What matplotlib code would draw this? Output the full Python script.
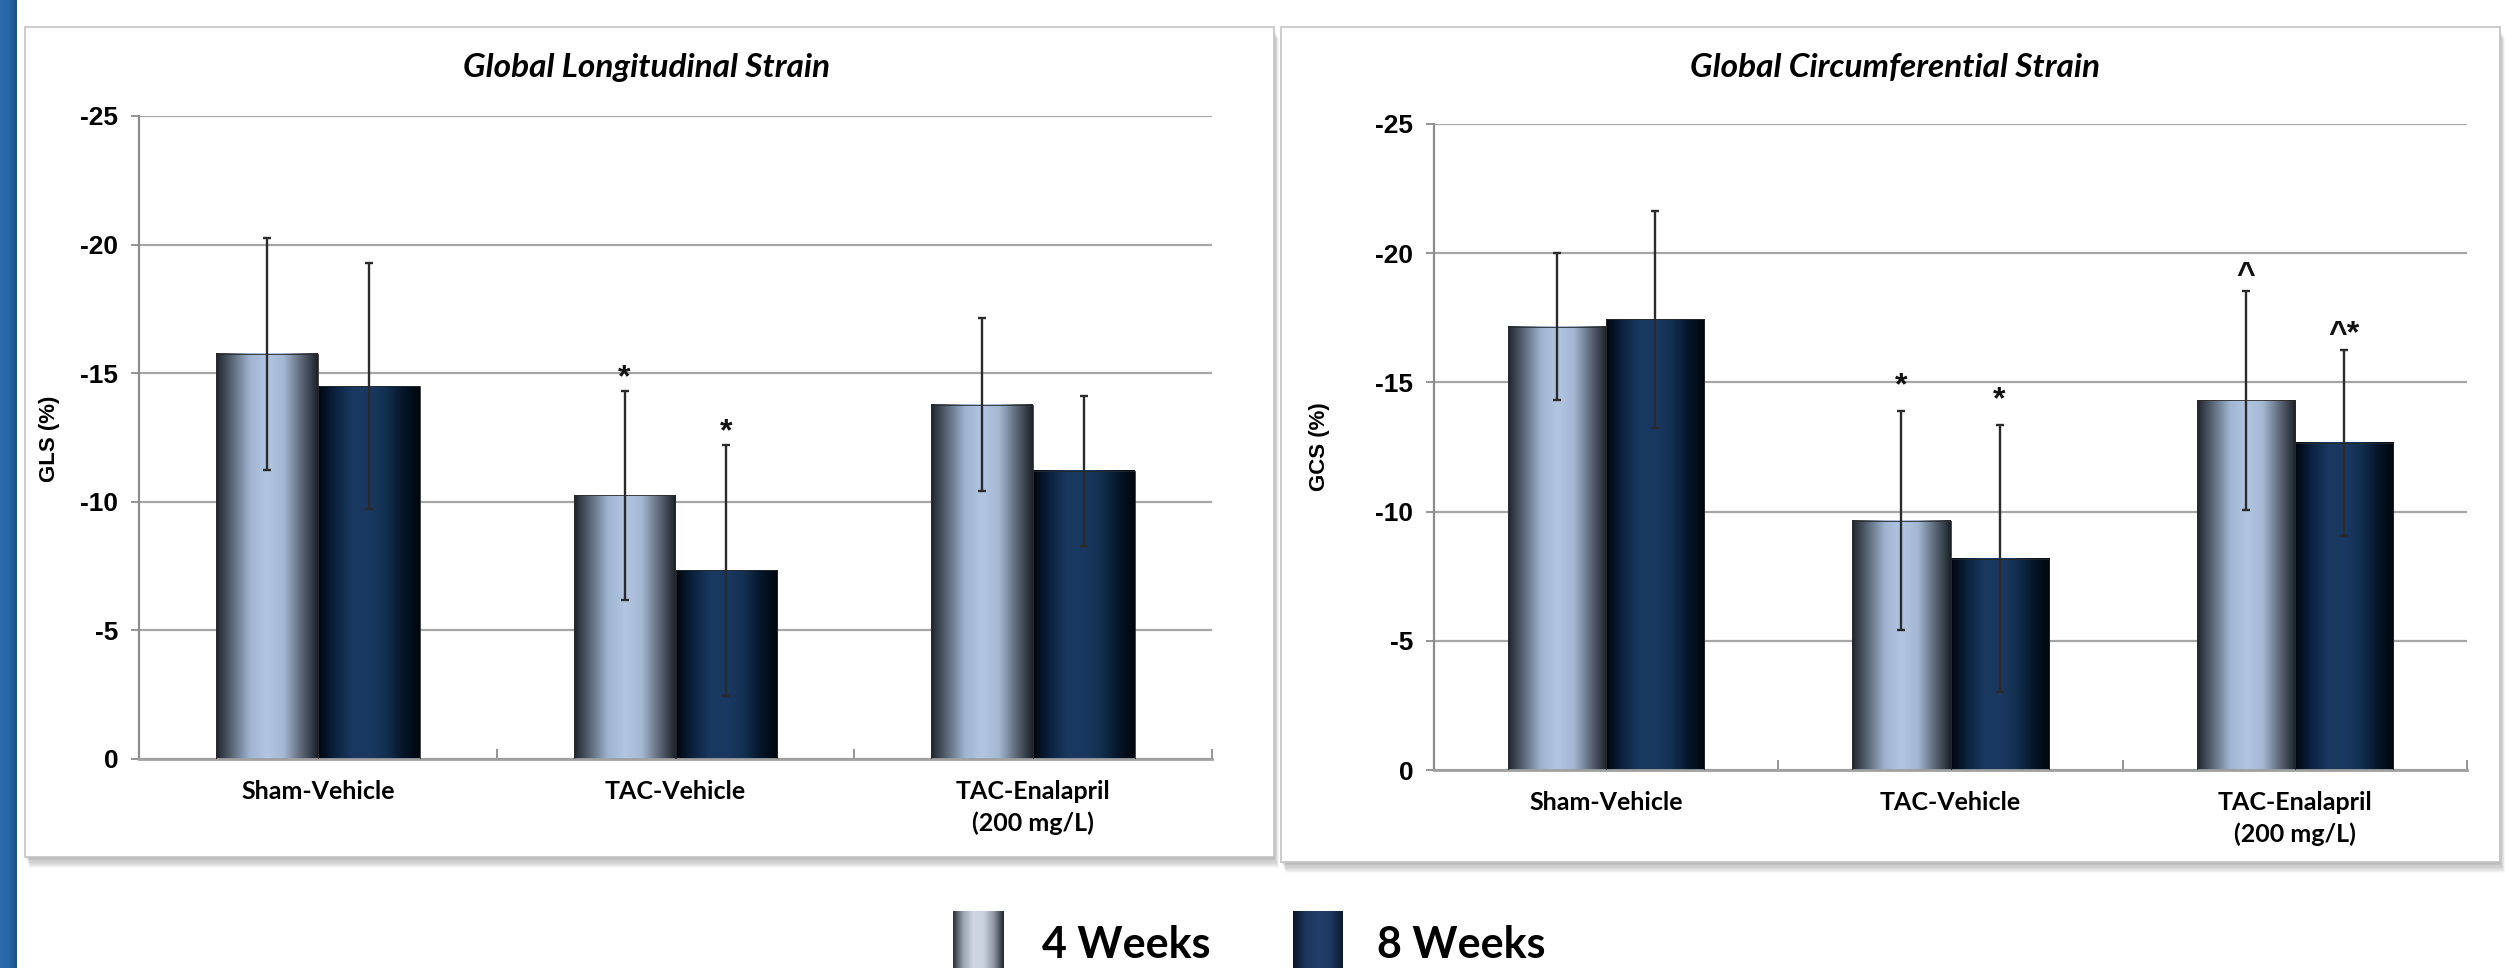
import matplotlib
matplotlib.use('Agg')
import matplotlib.pyplot as plt
import numpy as np
from matplotlib.colors import LinearSegmentedColormap
from matplotlib.patches import Rectangle

plt.rcParams['axes.unicode_minus'] = False

W, H = 2505, 968

# data (strain is negative)
categories = ['Sham-Vehicle', 'TAC-Vehicle', 'TAC-Enalapril\n(200 mg/L)']
series = ['4 Weeks', '8 Weeks']

gls_4wk = [-15.75, -10.25, -13.77]
gls_4wk_sd = [4.5, 4.07, 3.36]
gls_8wk = [-14.5, -7.33, -11.2]
gls_8wk_sd = [4.78, 4.88, 2.9]
gls_4wk_sig = ['', '*', '']
gls_8wk_sig = ['', '*', '']

gcs_4wk = [-17.16, -9.65, -14.3]
gcs_4wk_sd = [2.86, 4.24, 4.24]
gcs_8wk = [-17.44, -8.17, -12.66]
gcs_8wk_sd = [4.2, 5.17, 3.6]
gcs_4wk_sig = ['', '*', '^']
gcs_8wk_sig = ['', '*', '^*']

y_ticks = [0, -5, -10, -15, -20, -25]

# gradient colormaps for the bars
cmap_4 = LinearSegmentedColormap.from_list('w4', ['#1f242b', '#5d6b7c', '#9fb4d0', '#b2c6e2', '#a4b8d3', '#5f6a7a', '#1c2128'])
cmap_8 = LinearSegmentedColormap.from_list('w8', ['#00050c', '#0c2240', '#19385f', '#1a3962', '#12304f', '#06162a', '#00060d'])
leg_4 = LinearSegmentedColormap.from_list('l4', ['#2a2f36', '#9aa3b0', '#d0d7e2', '#cad2de', '#8f98a5', '#23272d'])
leg_8 = LinearSegmentedColormap.from_list('l8', ['#0a1526', '#1c355c', '#21406c', '#1d3862', '#0c1a30'])
strip_cmap = LinearSegmentedColormap.from_list('strip', ['#2c6dac', '#2867a6', '#1c5187'])
grad = np.linspace(0, 1, 256).reshape(1, -1)

fig = plt.figure(figsize=(W / 100, H / 100), dpi=100)
fig.patch.set_facecolor('white')
bg = fig.add_axes([0, 0, 1, 1], zorder=0)
bg.axis('off')

# blue strip on the left edge
bg.imshow(grad, extent=(0, 17, H, 0), cmap=strip_cmap, aspect='auto')

# panel boxes with a soft shadow
for x0, y0, x1, y1 in [(25, 27, 1274, 857), (1281, 27, 2500, 862)]:
    for k in range(1, 11):
        bg.add_patch(Rectangle((x0 + k * 0.5, y0 + k * 1.1), x1 - x0, y1 - y0, color='black', alpha=0.03, lw=0))
    bg.add_patch(Rectangle((x0, y0), x1 - x0, y1 - y0, facecolor='white', edgecolor='#c4c4c4', lw=1.2))

bg.set_xlim(0, W)
bg.set_ylim(H, 0)


def draw_panel(ax, m4, s4, m8, s8, sig4, sig8, sig_pad):
    x = np.arange(len(categories))
    bw = 0.285
    groups = [(x - bw / 2, m4, s4, cmap_4, sig4), (x + bw / 2, m8, s8, cmap_8, sig8)]
    for xs, means, sds, cmap, sigs in groups:
        for xi, m in zip(xs, means):
            ax.imshow(grad, extent=(xi - bw / 2, xi + bw / 2, 0, m), cmap=cmap, aspect='auto', zorder=2)
            ax.add_patch(Rectangle((xi - bw / 2, 0), bw, m, fill=False, ec='#2a2a2a', lw=0.6, zorder=3))
        ax.errorbar(xs, means, yerr=sds, fmt='none', ecolor='#2b2b2b', elinewidth=1.7,
                    capsize=3.2, capthick=1.7, zorder=4)
        for xi, m, sd, sg in zip(xs, means, sds, sigs):
            if sg:
                pad = sig_pad if '^' not in sg else sig_pad * 0.6
                ax.annotate(sg, (xi, m - sd), xytext=(0, pad), textcoords='offset points',
                            ha='center', va='center', fontsize=23, fontweight='bold',
                            family='Liberation Sans', color='#111111')
    ax.set_xlim(-0.5, 2.5)
    ax.set_ylim(0, -25)
    ax.set_yticks(y_ticks)
    ax.set_yticklabels([str(v) for v in y_ticks], fontsize=19, fontweight='bold', family='Liberation Sans')
    ax.yaxis.grid(True, color='#a6a6a6', lw=1.6)
    ax.set_axisbelow(True)
    ax.set_xticks([0.5, 1.5, 2.5])
    ax.set_xticklabels([])
    ax.set_xticks(x, minor=True)
    ax.set_xticklabels(categories, minor=True)
    for lab in ax.get_xticklabels(minor=True):
        lab.set_fontfamily('Lato')
        lab.set_fontweight('bold')
        lab.set_fontsize(18)
        lab.set_linespacing(1.45)
    ax.tick_params(axis='x', which='major', direction='in', length=7, width=1.3, color='#8c8c8c')
    ax.tick_params(axis='x', which='minor', length=0, pad=15)
    ax.tick_params(axis='y', direction='out', length=6, width=1.3, color='#8c8c8c', pad=9)
    for s in ['top', 'right']:
        ax.spines[s].set_visible(False)
    ax.spines['left'].set_color('#8c8c8c')
    ax.spines['left'].set_linewidth(1.6)
    ax.spines['bottom'].set_color('#a0a0a0')
    ax.spines['bottom'].set_linewidth(2)
    ax.set_facecolor('none')


ax1 = fig.add_axes([139 / W, 1 - 759 / H, 1073 / W, 643 / H], zorder=2)
draw_panel(ax1, gls_4wk, gls_4wk_sd, gls_8wk, gls_8wk_sd, gls_4wk_sig, gls_8wk_sig, 9)

ax2 = fig.add_axes([1434 / W, 1 - 770 / H, 1033 / W, 646 / H], zorder=2)
draw_panel(ax2, gcs_4wk, gcs_4wk_sd, gcs_8wk, gcs_8wk_sd, gcs_4wk_sig, gcs_8wk_sig, 18)

# titles (centred on their boxes) and axis labels
bg.text(647, 77, 'Global Longitudinal Strain', ha='center', va='baseline', fontsize=24,
        fontweight='bold', style='italic', family='Lato')
bg.text(1895, 77, 'Global Circumferential Strain', ha='center', va='baseline', fontsize=24,
        fontweight='bold', style='italic', family='Lato')
bg.text(50, 439, 'GLS (%)', rotation=90, ha='center', va='center', fontsize=16,
        fontweight='bold', family='Liberation Sans')
bg.text(1320, 447, 'GCS (%)', rotation=90, ha='center', va='center', fontsize=16,
        fontweight='bold', family='Liberation Sans')

# legend at the bottom
bg.imshow(grad, extent=(953, 1004, H, 911), cmap=leg_4, aspect='auto', zorder=3)
bg.imshow(grad, extent=(1293, 1343, H, 911), cmap=leg_8, aspect='auto', zorder=3)
bg.text(1042, 958, series[0], fontsize=31, fontweight='bold', family='Lato', va='baseline')
bg.text(1377, 958, series[1], fontsize=31, fontweight='bold', family='Lato', va='baseline')
bg.set_xlim(0, W)
bg.set_ylim(H, 0)

fig.savefig('out.png', dpi=100)
